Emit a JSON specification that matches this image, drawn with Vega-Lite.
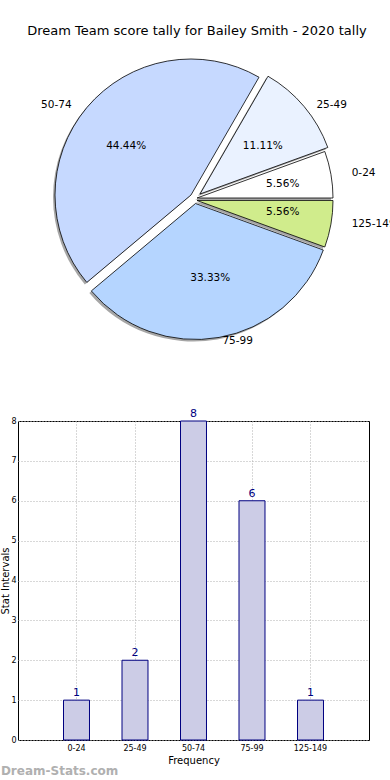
{
  "$schema": "https://vega.github.io/schema/vega-lite/v6.json",
  "padding": 0,
  "spacing": 25,
  "bounds": "flush",
  "config": {"font": "DejaVu Sans", "view": {"stroke": null}},
  "datasets": {
    "tally": [
      {"order": 1, "label": "0-24", "count": 1, "pct": "5.56%"},
      {"order": 2, "label": "25-49", "count": 2, "pct": "11.11%"},
      {"order": 3, "label": "50-74", "count": 8, "pct": "44.44%"},
      {"order": 4, "label": "75-99", "count": 6, "pct": "33.33%"},
      {"order": 5, "label": "125-149", "count": 1, "pct": "5.56%"}
    ]
  },
  "vconcat": [
    {
      "width": 358,
      "height": 396,
      "title": {"text": "Dream Team score tally for Bailey Smith - 2020 tally", "fontSize": 13, "fontWeight": "normal", "color": "#000", "offset": -38, "anchor": "middle"},
      "data": {"name": "tally"},
      "transform": [{"stack": "count", "groupby": [], "sort": [{"field": "order"}], "as": ["t0", "t1"]}],
      "layer": [
        {"transform": [{"filter": "datum.label === '0-24'"}], "mark": {"type": "arc", "outerRadius": 136, "fill": "#808080", "opacity": 0.7, "xOffset": -2, "yOffset": 2}, "encoding": {"theta": {"field": "t0", "type": "quantitative", "scale": {"domain": [0, 18], "range": [1.5708, -4.7124]}}, "theta2": {"field": "t1"}}},
        {"transform": [{"filter": "datum.label === '25-49'"}], "mark": {"type": "arc", "outerRadius": 136, "fill": "#808080", "opacity": 0.7, "xOffset": 1, "yOffset": -2}, "encoding": {"theta": {"field": "t0", "type": "quantitative"}, "theta2": {"field": "t1"}}},
        {"transform": [{"filter": "datum.label === '50-74'"}], "mark": {"type": "arc", "outerRadius": 136, "fill": "#808080", "opacity": 0.7, "xOffset": -8, "yOffset": -1}, "encoding": {"theta": {"field": "t0", "type": "quantitative"}, "theta2": {"field": "t1"}}},
        {"transform": [{"filter": "datum.label === '75-99'"}], "mark": {"type": "arc", "outerRadius": 136, "fill": "#808080", "opacity": 0.7, "xOffset": -3.5, "yOffset": 7.5}, "encoding": {"theta": {"field": "t0", "type": "quantitative"}, "theta2": {"field": "t1"}}},
        {"transform": [{"filter": "datum.label === '125-149'"}], "mark": {"type": "arc", "outerRadius": 136, "fill": "#808080", "opacity": 0.7, "xOffset": -2, "yOffset": 4.5}, "encoding": {"theta": {"field": "t0", "type": "quantitative"}, "theta2": {"field": "t1"}}},
        {"transform": [{"filter": "datum.label === '0-24'"}], "mark": {"type": "arc", "outerRadius": 136, "stroke": "#000", "strokeWidth": 0.8, "xOffset": 0, "yOffset": 0}, "encoding": {"theta": {"field": "t0", "type": "quantitative"}, "theta2": {"field": "t1"}, "color": {"field": "label", "type": "nominal", "legend": null, "scale": {"domain": ["0-24", "25-49", "50-74", "75-99", "125-149"], "range": ["#ffffff", "#eaf2ff", "#c6d9ff", "#b5d5ff", "#d0ec8c"]}}}},
        {"transform": [{"filter": "datum.label === '25-49'"}], "mark": {"type": "arc", "outerRadius": 136, "stroke": "#000", "strokeWidth": 0.8, "xOffset": 3, "yOffset": -4}, "encoding": {"theta": {"field": "t0", "type": "quantitative"}, "theta2": {"field": "t1"}, "color": {"field": "label", "type": "nominal", "legend": null}}},
        {"transform": [{"filter": "datum.label === '50-74'"}], "mark": {"type": "arc", "outerRadius": 136, "stroke": "#000", "strokeWidth": 0.8, "xOffset": -6, "yOffset": -3}, "encoding": {"theta": {"field": "t0", "type": "quantitative"}, "theta2": {"field": "t1"}, "color": {"field": "label", "type": "nominal", "legend": null}}},
        {"transform": [{"filter": "datum.label === '75-99'"}], "mark": {"type": "arc", "outerRadius": 136, "stroke": "#000", "strokeWidth": 0.8, "xOffset": -1.5, "yOffset": 5.5}, "encoding": {"theta": {"field": "t0", "type": "quantitative"}, "theta2": {"field": "t1"}, "color": {"field": "label", "type": "nominal", "legend": null}}},
        {"transform": [{"filter": "datum.label === '125-149'"}], "mark": {"type": "arc", "outerRadius": 136, "stroke": "#000", "strokeWidth": 0.8, "xOffset": 0, "yOffset": 2.5}, "encoding": {"theta": {"field": "t0", "type": "quantitative"}, "theta2": {"field": "t1"}, "color": {"field": "label", "type": "nominal", "legend": null}}},

        {"mark": {"type": "text", "radius": 82, "fontSize": 10.5, "color": "#000", "align": "center", "baseline": "middle", "dx": 5, "dy": 0}, "encoding": {"theta": {"field": "count", "type": "quantitative", "stack": true}, "order": {"field": "order"}, "text": {"condition": {"test": "datum.label === '0-24'", "field": "pct"}, "value": ""}}},
        {"mark": {"type": "text", "radius": 82, "fontSize": 10.5, "color": "#000", "align": "center", "baseline": "middle", "dx": 3, "dy": 1}, "encoding": {"theta": {"field": "count", "type": "quantitative", "stack": true}, "order": {"field": "order"}, "text": {"condition": {"test": "datum.label === '25-49'", "field": "pct"}, "value": ""}}},
        {"mark": {"type": "text", "radius": 82, "fontSize": 10.5, "color": "#000", "align": "center", "baseline": "middle", "dx": -8, "dy": 1}, "encoding": {"theta": {"field": "count", "type": "quantitative", "stack": true}, "order": {"field": "order"}, "text": {"condition": {"test": "datum.label === '50-74'", "field": "pct"}, "value": ""}}},
        {"mark": {"type": "text", "radius": 82, "fontSize": 10.5, "color": "#000", "align": "center", "baseline": "middle", "dx": -1, "dy": -1}, "encoding": {"theta": {"field": "count", "type": "quantitative", "stack": true}, "order": {"field": "order"}, "text": {"condition": {"test": "datum.label === '75-99'", "field": "pct"}, "value": ""}}},
        {"mark": {"type": "text", "radius": 82, "fontSize": 10.5, "color": "#000", "align": "center", "baseline": "middle", "dx": 5, "dy": 0}, "encoding": {"theta": {"field": "count", "type": "quantitative", "stack": true}, "order": {"field": "order"}, "text": {"condition": {"test": "datum.label === '125-149'", "field": "pct"}, "value": ""}}},

        {"mark": {"type": "text", "radius": 152, "fontSize": 10.5, "color": "#000", "align": "left", "baseline": "middle", "dx": 5, "dy": 1}, "encoding": {"theta": {"field": "count", "type": "quantitative", "stack": true}, "order": {"field": "order"}, "text": {"condition": {"test": "datum.label === '0-24'", "field": "label"}, "value": ""}}},
        {"mark": {"type": "text", "radius": 152, "fontSize": 10.5, "color": "#000", "align": "left", "baseline": "middle", "dx": 3, "dy": 5}, "encoding": {"theta": {"field": "count", "type": "quantitative", "stack": true}, "order": {"field": "order"}, "text": {"condition": {"test": "datum.label === '25-49'", "field": "label"}, "value": ""}}},
        {"mark": {"type": "text", "radius": 152, "fontSize": 10.5, "color": "#000", "align": "right", "baseline": "middle", "dx": -9, "dy": 5}, "encoding": {"theta": {"field": "count", "type": "quantitative", "stack": true}, "order": {"field": "order"}, "text": {"condition": {"test": "datum.label === '50-74'", "field": "label"}, "value": ""}}},
        {"mark": {"type": "text", "radius": 152, "fontSize": 10.5, "color": "#000", "align": "left", "baseline": "middle", "dx": -1, "dy": -7}, "encoding": {"theta": {"field": "count", "type": "quantitative", "stack": true}, "order": {"field": "order"}, "text": {"condition": {"test": "datum.label === '75-99'", "field": "label"}, "value": ""}}},
        {"mark": {"type": "text", "radius": 152, "fontSize": 10.5, "color": "#000", "align": "left", "baseline": "middle", "dx": 5, "dy": 0}, "encoding": {"theta": {"field": "count", "type": "quantitative", "stack": true}, "order": {"field": "order"}, "text": {"condition": {"test": "datum.label === '125-149'", "field": "label"}, "value": ""}}}
      ]
    },
    {
      "width": 351,
      "height": 319,
      "view": {"stroke": "#000", "strokeWidth": 1},
      "data": {"name": "tally"},
      "title": {"text": "Dream-Stats.com", "orient": "bottom", "anchor": "start", "frame": "bounds", "color": "#b0b0b0", "fontSize": 12, "fontWeight": "bold", "offset": 1},
      "encoding": {
        "x": {"field": "label", "type": "nominal", "sort": null,
          "scale": {"paddingInner": 0.556, "paddingOuter": 0.778},
          "axis": {"title": "Frequency", "titleFontSize": 10, "titleFontWeight": "normal", "titleColor": "#000", "titlePadding": 3, "labelAngle": 0, "labelFontSize": 8, "labelColor": "#000", "labelPadding": 4, "domain": false, "ticks": false, "grid": true, "gridDash": [1, 2], "gridColor": "#b0b0b0", "bandPosition": 0.5}},
        "y": {"field": "count", "type": "quantitative", "scale": {"domain": [0, 8], "nice": false},
          "axis": {"title": "Stat Intervals", "titleFontSize": 10, "titleFontWeight": "normal", "titleColor": "#000", "titlePadding": 0, "values": [0, 1, 2, 3, 4, 5, 6, 7, 8], "labelOverlap": false, "labelFontSize": 8, "labelColor": "#000", "labelPadding": 2, "domain": false, "ticks": false, "grid": true, "gridDash": [1, 2], "gridColor": "#b0b0b0"}}
      },
      "layer": [
        {"mark": {"type": "bar", "fill": "#cccce6", "stroke": "#000080", "strokeWidth": 1}},
        {"mark": {"type": "text", "baseline": "bottom", "dy": -2, "fontSize": 11, "color": "#000080"},
          "encoding": {"text": {"field": "count"}}}
      ]
    }
  ]
}
